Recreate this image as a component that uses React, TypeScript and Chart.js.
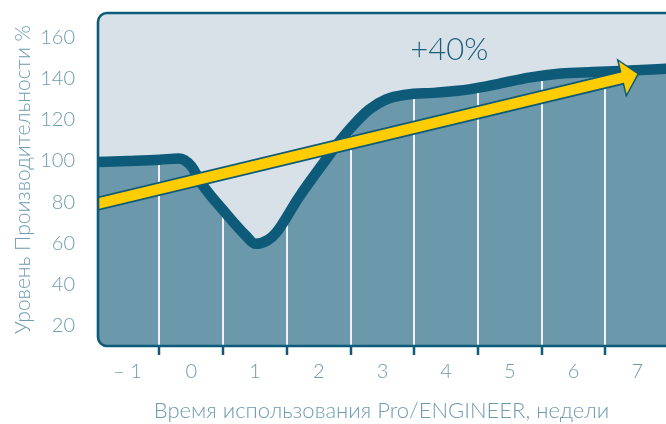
import { useEffect, useRef } from "react";
import { Chart, registerables } from "chart.js";

Chart.register(...registerables);

// ---- data ----
const weeks = [-1.5, -1.0, -0.5, -0.2, 0.0, 0.16, 0.54, 0.85, 1.01, 1.2, 1.33, 1.69, 2.11, 2.31, 2.52, 2.79, 3.05, 3.37, 3.84, 4.36, 4.83, 5.3, 5.8, 6.3, 6.8, 7.45];
const productivity = [99.5, 100, 100.6, 101.2, 97.5, 89, 74.6, 63.9, 59.7, 61.5, 65, 82.4, 100.5, 108.8, 116.6, 124.9, 129.8, 132.2, 133.2, 134.8, 137.5, 140.5, 142.5, 143.2, 143.8, 144.8];

const xTickValues = [-1, 0, 1, 2, 3, 4, 5, 6, 7];
const xTickLabels = ["– 1", "0", "1", "2", "3", "4", "5", "6", "7"];
const yTickValues = [20, 40, 60, 80, 100, 120, 140, 160];
const gridWeeks = [-0.5, 0.5, 1.5, 2.5, 3.5, 4.5, 5.5, 6.5];

const arrowWeeks = [-1.5, 7.0];
const arrowValues = [79, 142.2];
const growthText = "+40%";
const growthWeek = 4.05;
const growthValue = 154;

const xTitle = "Время использования Pro/ENGINEER, недели";
const yTitle = "Уровень Производительности %";

// ---- style ----
const LIGHT = "#d9e1e8";
const BELOW = "#6b98ab";
const DARK = "#0d5b79";
const YELLOW = "#ffcc00";
const TEXT = "#6d9bb0";
const GRID = "#eef2f5";
const FONT = "Lato, 'Open Sans', sans-serif";

function roundRectPath(ctx: CanvasRenderingContext2D, x: number, y: number, w: number, h: number, r: number) {
  ctx.moveTo(x + r, y);
  ctx.lineTo(x + w - r, y);
  ctx.arcTo(x + w, y, x + w, y + r, r);
  ctx.lineTo(x + w, y + h - r);
  ctx.arcTo(x + w, y + h, x + w - r, y + h, r);
  ctx.lineTo(x + r, y + h);
  ctx.arcTo(x, y + h, x, y + h - r, r);
  ctx.lineTo(x, y + r);
  ctx.arcTo(x, y, x + r, y, r);
  ctx.closePath();
}

const decor = {
  id: "decor",
  beforeDatasetsDraw(chart: any) {
    const { ctx, chartArea: a, scales } = chart;
    const x = scales.x;
    ctx.save();
    ctx.beginPath();
    roundRectPath(ctx, a.left + 1, a.top + 1, a.right - a.left + 30, a.bottom - a.top - 2, 9);
    ctx.clip();
    ctx.fillStyle = BELOW;
    ctx.fillRect(a.left, a.top, a.right - a.left + 10, a.bottom - a.top);
    ctx.strokeStyle = GRID;
    ctx.lineWidth = 2;
    gridWeeks.forEach((w) => {
      const px = Math.round(x.getPixelForValue(w));
      ctx.beginPath();
      ctx.moveTo(px, a.top);
      ctx.lineTo(px, a.bottom);
      ctx.stroke();
    });
    ctx.restore();
  },
  afterDatasetsDraw(chart: any) {
    const { ctx, chartArea: a, scales } = chart;
    const x = scales.x;
    const y = scales.y;
    const bx = a.left + 1;
    const by = a.top + 1;
    const bw = a.right - a.left + 30;
    const bh = a.bottom - a.top - 2;

    // arrow
    ctx.save();
    ctx.beginPath();
    roundRectPath(ctx, bx, by, bw, bh, 9);
    ctx.clip();
    const sx = x.getPixelForValue(arrowWeeks[0]);
    const sy = y.getPixelForValue(arrowValues[0]);
    const tx = x.getPixelForValue(arrowWeeks[1]);
    const ty = y.getPixelForValue(arrowValues[1]);
    const len = Math.hypot(tx - sx, ty - sy);
    const ux = (tx - sx) / len;
    const uy = (ty - sy) / len;
    const nx = -uy;
    const ny = ux;
    const headLen = 15;
    const headHalf = 16.5;
    const baseX = tx - ux * headLen;
    const baseY = ty - uy * headLen;
    const headPath = () => {
      ctx.beginPath();
      ctx.moveTo(tx, ty);
      ctx.lineTo(baseX + nx * headHalf, baseY + ny * headHalf);
      ctx.lineTo(baseX - nx * headHalf, baseY - ny * headHalf);
      ctx.closePath();
    };
    ctx.lineCap = "butt";
    ctx.lineJoin = "miter";
    ctx.strokeStyle = DARK;
    ctx.lineWidth = 14;
    ctx.beginPath();
    ctx.moveTo(sx - ux * 20, sy - uy * 20);
    ctx.lineTo(baseX + ux * 2, baseY + uy * 2);
    ctx.stroke();
    headPath();
    ctx.lineWidth = 3;
    ctx.stroke();
    ctx.strokeStyle = YELLOW;
    ctx.lineWidth = 10.5;
    ctx.beginPath();
    ctx.moveTo(sx - ux * 20, sy - uy * 20);
    ctx.lineTo(baseX + ux * 3, baseY + uy * 3);
    ctx.stroke();
    headPath();
    ctx.fillStyle = YELLOW;
    ctx.fill();
    ctx.restore();

    // white outside rounded corners
    ctx.save();
    ctx.beginPath();
    ctx.rect(a.left - 6, a.top - 6, a.right - a.left + 20, a.bottom - a.top + 12);
    roundRectPath(ctx, bx, by, bw, bh, 9);
    ctx.fillStyle = "#ffffff";
    ctx.fill("evenodd");
    ctx.restore();

    // border
    ctx.save();
    ctx.strokeStyle = DARK;
    ctx.lineWidth = 2.6;
    ctx.beginPath();
    roundRectPath(ctx, bx, by, bw, bh, 9);
    ctx.stroke();
    // tick marks
    ctx.lineWidth = 2.5;
    gridWeeks.forEach((w) => {
      const px = Math.round(x.getPixelForValue(w));
      ctx.beginPath();
      ctx.moveTo(px, a.bottom);
      ctx.lineTo(px, a.bottom + 8);
      ctx.stroke();
    });
    // growth label
    ctx.fillStyle = "#1b5f7b";
    ctx.font = `300 31px ${FONT}`;
    ctx.textAlign = "center";
    ctx.textBaseline = "middle";
    ctx.fillText(growthText, x.getPixelForValue(growthWeek), y.getPixelForValue(growthValue));
    ctx.restore();
  },
};

export default function App() {
  const ref = useRef<HTMLCanvasElement | null>(null);
  useEffect(() => {
    if (!ref.current) return;
    const chart = new Chart(ref.current, {
      type: "line",
      data: {
        datasets: [
          {
            data: weeks.map((w, i) => ({ x: w, y: productivity[i] })),
            borderColor: DARK,
            borderWidth: 10.5,
            backgroundColor: LIGHT,
            fill: "end",
            pointRadius: 0,
            cubicInterpolationMode: "monotone",
            borderJoinStyle: "round",
            borderCapStyle: "round",
            clip: 0,
          } as any,
        ],
      },
      options: {
        animation: false,
        responsive: false,
        devicePixelRatio: 1,
        layout: { padding: { top: 12, left: 0, right: 0, bottom: 0 } },
        plugins: { legend: { display: false }, tooltip: { enabled: false } },
        scales: {
          x: {
            type: "linear",
            min: -1.48,
            max: 7.45,
            border: { display: false },
            grid: { display: false, drawTicks: false },
            afterBuildTicks: (s: any) => {
              s.ticks = xTickValues.map((v) => ({ value: v }));
            },
            afterFit: (s: any) => {
              s.height = 77;
              s.paddingLeft = 0;
              s.paddingRight = 0;
            },
            ticks: {
              padding: 13,
              color: TEXT,
              font: { family: FONT, size: 20, weight: "300" },
              maxRotation: 0,
              autoSkip: false,
              callback: (v: any) => {
                const i = xTickValues.indexOf(Number(v));
                return i >= 0 ? xTickLabels[i] : "";
              },
            },
            title: {
              display: true,
              text: xTitle,
              color: TEXT,
              font: { family: FONT, size: 22, weight: "300" },
              padding: { top: 0, bottom: 0 },
            },
          },
          y: {
            min: 9.55,
            max: 172.4,
            border: { display: false },
            grid: { display: false, drawTicks: false },
            afterBuildTicks: (s: any) => {
              s.ticks = yTickValues.map((v) => ({ value: v }));
            },
            afterFit: (s: any) => {
              s.width = 97;
              s.paddingTop = 0;
              s.paddingBottom = 0;
            },
            ticks: {
              padding: 22,
              color: TEXT,
              font: { family: FONT, size: 20, weight: "300" },
            },
            title: {
              display: true,
              text: yTitle,
              color: TEXT,
              font: { family: FONT, size: 21, weight: "300" },
              padding: { top: 11, bottom: 0 },
            },
          },
        },
      },
      plugins: [decor],
    });
    return () => chart.destroy();
  }, []);
  return (
    <div style={{ position: "absolute", left: 0, top: 0, width: 666, height: 424 }}>
      <canvas ref={ref} width={666} height={424} style={{ display: "block" }} />
    </div>
  );
}
